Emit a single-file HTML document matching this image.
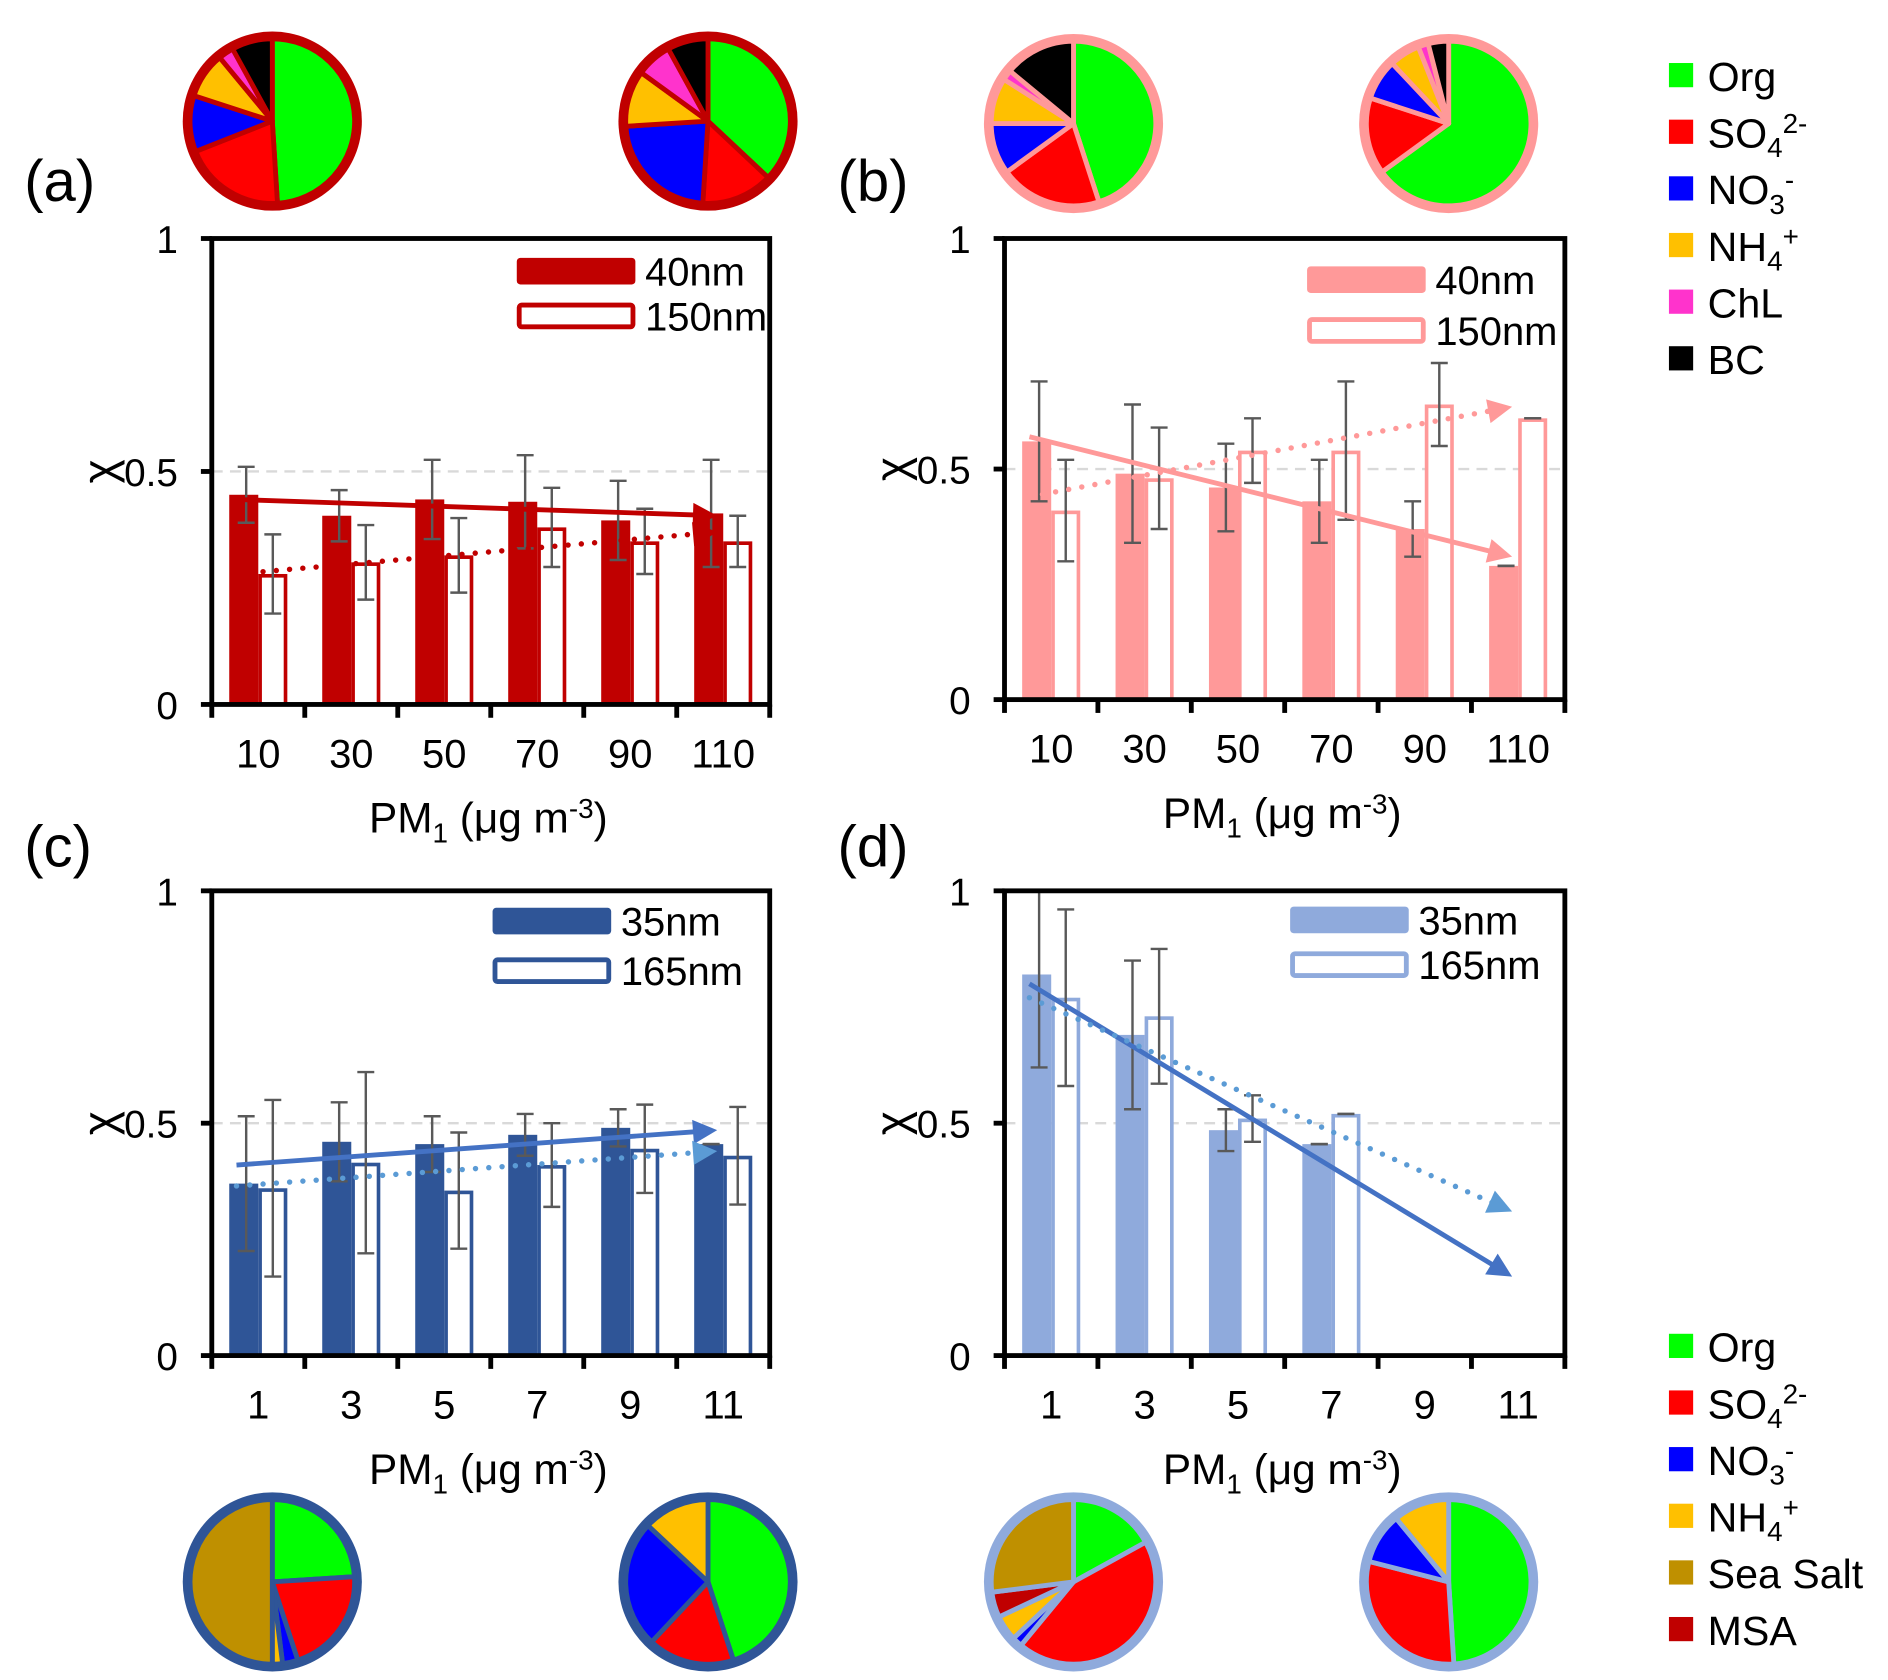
<!DOCTYPE html>
<html><head><meta charset="utf-8"><style>
html,body{margin:0;padding:0;background:#fff;}
svg{display:block;font-family:"Liberation Sans",sans-serif;}
</style></head><body>
<svg id="fig" width="1888" height="1680" viewBox="0 0 1560 1388" xmlns="http://www.w3.org/2000/svg"></svg>
<script>
// ---- data ----
const catsAB = ["10","30","50","70","90","110"];
const catsCD = ["1","3","5","7","9","11"];
const yTicks = [0, 0.5, 1];
const yTickLabels = ["0","0.5","1"];
const a40 = [0.45, 0.405, 0.44, 0.435, 0.395, 0.41];
const a40err = [0.06, 0.055, 0.085, 0.10, 0.085, 0.115];
const a150 = [0.28, 0.305, 0.32, 0.38, 0.35, 0.35];
const a150err = [0.085, 0.08, 0.08, 0.085, 0.07, 0.055];
const aTrendSolid = [0.44, 0.405];
const aTrendDot = [0.28, 0.37];
const b40 = [0.56, 0.49, 0.46, 0.43, 0.37, 0.29];
const b40err = [0.13, 0.15, 0.095, 0.09, 0.06, 0];
const b150 = [0.41, 0.48, 0.54, 0.54, 0.64, 0.61];
const b150err = [0.11, 0.11, 0.07, 0.15, 0.09, 0];
const bTrendSolid = [0.57, 0.31];
const bTrendDot = [0.44, 0.635];
const c35 = [0.37, 0.46, 0.455, 0.475, 0.49, 0.455];
const c35err = [0.145, 0.085, 0.06, 0.045, 0.04, 0];
const c165 = [0.36, 0.415, 0.355, 0.41, 0.445, 0.43];
const c165err = [0.19, 0.195, 0.125, 0.09, 0.095, 0.105];
const cTrendSolid = [0.41, 0.485];
const cTrendDot = [0.365, 0.44];
const d35 = [0.82, 0.69, 0.485, 0.455, null, null];
const d35err = [0.2, 0.16, 0.045, 0, 0, 0];
const d165 = [0.77, 0.73, 0.51, 0.52, null, null];
const d165err = [0.19, 0.145, 0.05, 0, 0, 0];
const dTrendSolid = [0.80, 0.17];
const dTrendDot = [0.77, 0.31];
// pies (clockwise from top): Org, SO4, NO3, NH4, ChL, BC
const pieA1 = [0.49, 0.20, 0.11, 0.09, 0.03, 0.08];
const pieA2 = [0.37, 0.14, 0.23, 0.11, 0.07, 0.08];
const pieB1 = [0.45, 0.20, 0.10, 0.09, 0.02, 0.14];
const pieB2 = [0.65, 0.15, 0.08, 0.06, 0.02, 0.04];
// Org, SO4, NO3, NH4, MSA, SeaSalt
const pieC1 = [0.24, 0.21, 0.03, 0.02, 0.0, 0.50];
const pieC2 = [0.45, 0.17, 0.25, 0.13, 0.0, 0.0];
const pieD1 = [0.17, 0.44, 0.02, 0.05, 0.05, 0.27];
const pieD2 = [0.49, 0.30, 0.10, 0.11, 0.0, 0.0];
const colsTop = ["#00FF00","#FF0000","#0000FF","#FFC000","#FF33CC","#000000"];
const colsBot = ["#00FF00","#FF0000","#0000FF","#FFC000","#C00000","#BF9000"];

const NS = "http://www.w3.org/2000/svg";
const svg = document.getElementById('fig');
function el(tag, attrs, parent, text){
  const e = document.createElementNS(NS, tag);
  for (const k in attrs) e.setAttribute(k, attrs[k]);
  if (text !== undefined) e.textContent = text;
  (parent||svg).appendChild(e);
  return e;
}

function panel(o){
  const g = el('g', {});
  
  
  const L=o.L, R=o.R, T=o.T, B=o.B;
  const step = (R-L)/6;
  const xc = i => L + step*(i+0.5);
  const y = v => B - (B-T)*v;
  const gl = el('line', {x1:L, x2:R, y1:y(0.5), y2:y(0.5), stroke:'#D9D9D9', 'stroke-width':2, 'stroke-dasharray':'9,6'}, g);
  
  
  const bw = 24;
  for (let i=0;i<6;i++){
    if (o.s1[i]!=null){
      const r = el('rect', {x:xc(i)-bw, y:y(o.s1[i]), width:bw, height:B-y(o.s1[i]), fill:o.color}, g);
      
      
    }
    if (o.s2[i]!=null){
      const r = el('rect', {x:xc(i)+1.5, y:y(o.s2[i])+1.5, width:bw-3, height:B-y(o.s2[i])-1.5, fill:'#fff', stroke:o.color, 'stroke-width':3}, g);
      
      
    }
  }
  function err(x, v, e){
    if (v==null) return;
    const eg = el('g', {stroke:'#595959','stroke-width':2}, g);
    
    
    const top = Math.max(0, Math.min(1, v+e)), bot = v-e;
    el('line', {x1:x, x2:x, y1:y(top), y2:y(bot)}, eg);
    el('line', {x1:x-7, x2:x+7, y1:y(top), y2:y(top)}, eg);
    el('line', {x1:x-7, x2:x+7, y1:y(bot), y2:y(bot)}, eg);
  }
  for (let i=0;i<6;i++){ err(xc(i)-bw/2+2, o.s1[i], o.e1[i]); err(xc(i)+bw/2, o.s2[i], o.e2[i]); }
  function arrowLine(vals, color, dotted, nm){
    const x1 = xc(0)-18, x2 = xc(5)-5;
    const y1 = y(vals[0]), y2 = y(vals[1]);
    const ang = Math.atan2(y2-y1, x2-x1);
    const tg = el('g', {}, g);
    
    
    const ex = x2-16*Math.cos(ang), ey = y2-16*Math.sin(ang);
    const ln = el('line', {x1:x1, y1:y1, x2:ex, y2:ey, stroke:color, 'stroke-width':dotted?4.5:4}, tg);
    if (dotted){ ln.setAttribute('stroke-dasharray','0,11'); ln.setAttribute('stroke-linecap','round'); }
    const s=20, w=10;
    const px = -Math.sin(ang), py = Math.cos(ang);
    const bx = x2-s*Math.cos(ang), by = y2-s*Math.sin(ang);
    el('polygon', {points:`${x2},${y2} ${bx+px*w},${by+py*w} ${bx-px*w},${by-py*w}`, fill:color}, tg);
  }
  arrowLine(o.tSolid, o.tcolor1, false, 'trend-line-small');
  arrowLine(o.tDot, o.tcolor2, true, 'trend-line-large');
  const ax = el('rect', {x:L, y:T, width:R-L, height:B-T, fill:'none', stroke:'#000', 'stroke-width':4}, g);
  
  
  for (let i=0;i<=6;i++){
    el('line', {x1:L+step*i, x2:L+step*i, y1:B, y2:B+11, stroke:'#000','stroke-width':4}, g);
  }
  for (let k=0;k<yTicks.length;k++){
    el('line', {x1:L-9, x2:L, y1:y(yTicks[k]), y2:y(yTicks[k]), stroke:'#000','stroke-width':4}, g);
    const t = el('text', {x:L-28, y:y(yTicks[k])+12, 'font-size':32, 'text-anchor':'end', fill:'#000'}, g, yTickLabels[k]);
    
    
  }
  for (let i=0;i<6;i++){
    const t = el('text', {x:xc(i), y:B+52, 'font-size':33, 'text-anchor':'middle'}, g, o.cats[i]);
    
    
  }
  const yt = el('text', {x:0, y:0, 'font-size':38, 'text-anchor':'middle', transform:`translate(${L-80},${y(0.5)}) rotate(-90)`}, g, 'χ');
  
  
  const xt = el('text', {x:(L+R)/2-2, y:B+106, 'font-size':35, 'text-anchor':'middle'}, g);
  
  
  xt.innerHTML = 'PM<tspan font-size="23" dy="8">1</tspan><tspan dy="-8"> (μg m</tspan><tspan font-size="23" dy="-12">-3</tspan><tspan dy="12">)</tspan>';
  const pl = el('text', {x:o.lx, y:o.ly, 'font-size':48}, g, o.label);
  
  
  const lg = el('g', {}, g);
  
  
  el('rect', {x:o.legX, y:o.legY, width:98, height:22, fill:o.color, rx:3}, lg);
  el('text', {x:o.legX+106, y:o.legY+23, 'font-size':33}, lg, o.n1);
  el('rect', {x:o.legX+2, y:o.legY+o.legGap+2, width:94, height:18, fill:'#fff', stroke:o.color, 'stroke-width':4, rx:2}, lg);
  el('text', {x:o.legX+106, y:o.legY+o.legGap+23, 'font-size':33}, lg, o.n2);
}

panel({name:'panel-a', L:175,R:636,T:197,B:582, cats:catsAB, s1:a40,e1:a40err,s2:a150,e2:a150err, tSolid:aTrendSolid,tDot:aTrendDot, color:'#C00000', tcolor1:'#C00000', tcolor2:'#C00000', label:'(a)', lx:20, ly:166, legX:427, legY:213, legGap:37, n1:'40nm', n2:'150nm'});
panel({name:'panel-b', L:830,R:1293,T:197,B:578, cats:catsAB, s1:b40,e1:b40err,s2:b150,e2:b150err, tSolid:bTrendSolid,tDot:bTrendDot, color:'#FF9999', tcolor1:'#FF9999', tcolor2:'#FF9999', label:'(b)', lx:692, ly:166, legX:1080, legY:220, legGap:42, n1:'40nm', n2:'150nm'});
panel({name:'panel-c', L:175,R:636,T:736,B:1120, cats:catsCD, s1:c35,e1:c35err,s2:c165,e2:c165err, tSolid:cTrendSolid,tDot:cTrendDot, color:'#2F5597', tcolor1:'#4472C4', tcolor2:'#5B9BD5', label:'(c)', lx:20, ly:716, legX:407, legY:750, legGap:41, n1:'35nm', n2:'165nm'});
panel({name:'panel-d', L:830,R:1293,T:736,B:1120, cats:catsCD, s1:d35,e1:d35err,s2:d165,e2:d165err, tSolid:dTrendSolid,tDot:dTrendDot, color:'#8FAADC', tcolor1:'#4472C4', tcolor2:'#5B9BD5', label:'(d)', lx:692, ly:716, legX:1066, legY:749, legGap:37, n1:'35nm', n2:'165nm'});

function pie(cx, cy, r, vals, cols, border, nm){
  const g = el('g', {}, svg);
  
  
  el('circle', {cx:cx, cy:cy, r:r, fill:border}, g);
  const ri = r-6;
  let a = -Math.PI/2;
  const tot = vals.reduce((s,v)=>s+v,0);
  for (let i=0;i<vals.length;i++){
    if (vals[i]<=0) continue;
    const da = vals[i]/tot*2*Math.PI;
    const a2 = a+da;
    const x1 = cx+ri*Math.cos(a), y1 = cy+ri*Math.sin(a);
    const x2 = cx+ri*Math.cos(a2), y2 = cy+ri*Math.sin(a2);
    const p = el('path', {d:`M${cx},${cy} L${x1},${y1} A${ri},${ri} 0 ${da>Math.PI?1:0} 1 ${x2},${y2} Z`, fill:cols[i], stroke:border, 'stroke-width':4, 'stroke-linejoin':'round'}, g);
    
    
    a = a2;
  }
}
pie(225,100,74,pieA1,colsTop,'#C00000','pie-a-40nm');
pie(585,100,74,pieA2,colsTop,'#C00000','pie-a-150nm');
pie(887,102,74,pieB1,colsTop,'#FF9999','pie-b-40nm');
pie(1197,102,74,pieB2,colsTop,'#FF9999','pie-b-150nm');
pie(225,1307,74,pieC1,colsBot,'#2F5597','pie-c-35nm');
pie(585,1307,74,pieC2,colsBot,'#2F5597','pie-c-165nm');
pie(887,1307,74,pieD1,colsBot,'#8FAADC','pie-d-35nm');
pie(1197,1307,74,pieD2,colsBot,'#8FAADC','pie-d-165nm');

function legend(y0, names, cols, nm){
  const g = el('g', {}, svg);
  
  
  for (let i=0;i<names.length;i++){
    const yy = y0 + i*46.8;
    el('rect', {x:1379, y:yy-11, width:20, height:20, fill:cols[i]}, g);
    const t = el('text', {x:1411, y:yy+12, 'font-size':34}, g);
    t.innerHTML = names[i];
    
    
  }
}
legend(63, ['Org','SO<tspan font-size="23" dy="8">4</tspan><tspan font-size="23" dy="-20">2-</tspan>','NO<tspan font-size="23" dy="8">3</tspan><tspan font-size="23" dy="-20">-</tspan>','NH<tspan font-size="23" dy="8">4</tspan><tspan font-size="23" dy="-20">+</tspan>','ChL','BC'], colsTop, 'legend-top');
legend(1113, ['Org','SO<tspan font-size="23" dy="8">4</tspan><tspan font-size="23" dy="-20">2-</tspan>','NO<tspan font-size="23" dy="8">3</tspan><tspan font-size="23" dy="-20">-</tspan>','NH<tspan font-size="23" dy="8">4</tspan><tspan font-size="23" dy="-20">+</tspan>','Sea Salt','MSA'], ["#00FF00","#FF0000","#0000FF","#FFC000","#BF9000","#C00000"], 'legend-bottom');
</script>
</body></html>
